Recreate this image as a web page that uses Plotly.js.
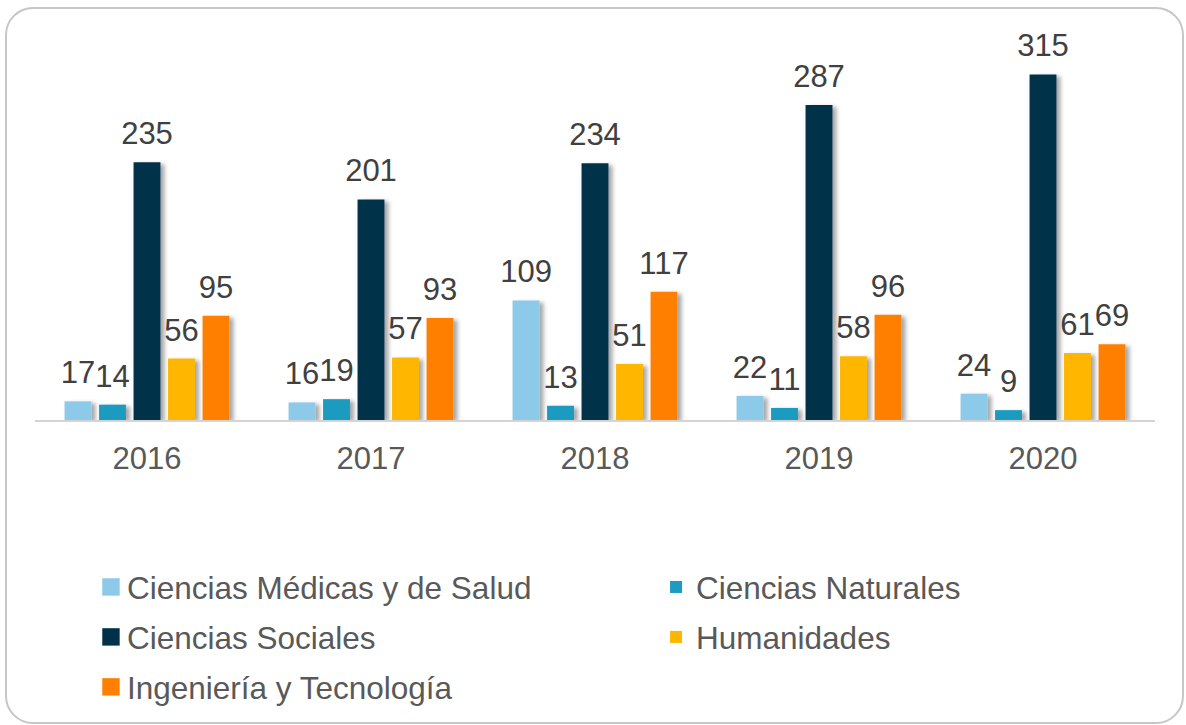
<!DOCTYPE html>
<html><head><meta charset="utf-8">
<script src="https://cdn.plot.ly/plotly-3.0.1.min.js"></script>
<style>
html,body{margin:0;padding:0;background:#fff;}
#wrap{position:relative;width:1186px;height:725px;}
#chart{width:1186px;height:725px;}
#frame{position:absolute;left:5px;top:7px;width:1179px;height:717px;box-sizing:border-box;border:2px solid #C6C6C6;border-radius:28px;pointer-events:none;}
</style>
</head><body>
<div id="wrap"><div id="chart"></div><div id="frame"></div></div>
<script>
const years = ['2016', '2017', '2018', '2019', '2020'];
const seriesNames = ['Ciencias Médicas y de Salud', 'Ciencias Naturales', 'Ciencias Sociales', 'Humanidades', 'Ingeniería y Tecnología'];
const medicas = [17, 16, 109, 22, 24];
const naturales = [14, 19, 13, 11, 9];
const sociales = [235, 201, 234, 287, 315];
const humanidades = [56, 57, 51, 58, 61];
const ingenieria = [95, 93, 117, 96, 69];
const seriesColors = ['#8DC9E8', '#1D9BC0', '#00304A', '#FFB600', '#FF8000'];

const allSeries = [medicas, naturales, sociales, humanidades, ingenieria];
const legendOf = ['legend', 'legend2', 'legend', 'legend2', 'legend'];
const FONT = 'Liberation Sans, Arial, sans-serif';

const traces = allSeries.map((vals, i) => ({
  type: 'bar',
  name: seriesNames[i],
  x: years,
  y: vals,
  text: vals.map(String),
  textposition: 'outside',
  constraintext: 'none',
  cliponaxis: false,
  textfont: {family: FONT, size: 31, color: '#404040'},
  marker: {color: seriesColors[i]},
  legend: legendOf[i],
  legendgroup: 'g' + i,
  hoverinfo: 'skip'
}));

const legendBase = {
  orientation: 'v',
  xanchor: 'left',
  yanchor: 'top',
  y: -0.361,
  bgcolor: 'rgba(0,0,0,0)',
  font: {family: FONT, size: 31.5, color: '#595959'},
  tracegroupgap: 6,
  itemclick: false,
  itemdoubleclick: false
};

const layout = {
  width: 1186,
  height: 725,
  margin: {l: 35, r: 31, t: 36, b: 304},
  paper_bgcolor: '#ffffff',
  plot_bgcolor: '#ffffff',
  barmode: 'group',
  bargap: 0.23,
  bargroupgap: 0.22,
  showlegend: true,
  font: {family: FONT, color: '#595959'},
  xaxis: {
    type: 'category',
    showline: true,
    linecolor: '#D4D4D4',
    linewidth: 1.5,
    ticks: '',
    showgrid: false,
    zeroline: false,
    tickfont: {size: 31, color: '#595959'},
    ticklabelstandoff: 10,
    fixedrange: true
  },
  yaxis: {
    visible: false,
    range: [0, 350],
    showgrid: false,
    zeroline: false,
    fixedrange: true
  },
  legend: Object.assign({}, legendBase, {x: 0.0464}),
  legend2: Object.assign({}, legendBase, {x: 0.5545})
};

const gd = document.getElementById('chart');
Plotly.newPlot(gd, traces, layout, {staticPlot: true, displayModeBar: false}).then(() => {
  const ns = 'http://www.w3.org/2000/svg';
  const svg = gd.querySelector('svg.main-svg');
  let defs = svg.querySelector('defs');
  if (!defs) { defs = document.createElementNS(ns, 'defs'); svg.insertBefore(defs, svg.firstChild); }
  const f = document.createElementNS(ns, 'filter');
  f.setAttribute('id', 'barshadow');
  f.setAttribute('x', '-30%'); f.setAttribute('y', '-10%');
  f.setAttribute('width', '180%'); f.setAttribute('height', '130%');
  const ds = document.createElementNS(ns, 'feDropShadow');
  ds.setAttribute('dx', '4'); ds.setAttribute('dy', '2');
  ds.setAttribute('stdDeviation', '2');
  ds.setAttribute('flood-color', '#000'); ds.setAttribute('flood-opacity', '0.35');
  f.appendChild(ds); defs.appendChild(f);
  gd.querySelectorAll('.barlayer .point path').forEach(p => p.setAttribute('filter', 'url(#barshadow)'));
  gd.querySelectorAll('.barlayer .bartext').forEach(t => {
    t.setAttribute('transform', 'translate(0,-8) ' + (t.getAttribute('transform') || ''));
  });
  gd.querySelectorAll('.legend .legendpoints path').forEach(p => {
    const bb = p.getBBox();
    const cx = bb.x + bb.width / 2, cy = bb.y + bb.height / 2;
    const prev = p.getAttribute('transform') || '';
    p.setAttribute('transform', prev + ' translate(' + (cx + 4) + ',' + cy + ') scale(1.45) translate(' + (-cx) + ',' + (-cy) + ')');
  });
});
</script>
</body></html>
